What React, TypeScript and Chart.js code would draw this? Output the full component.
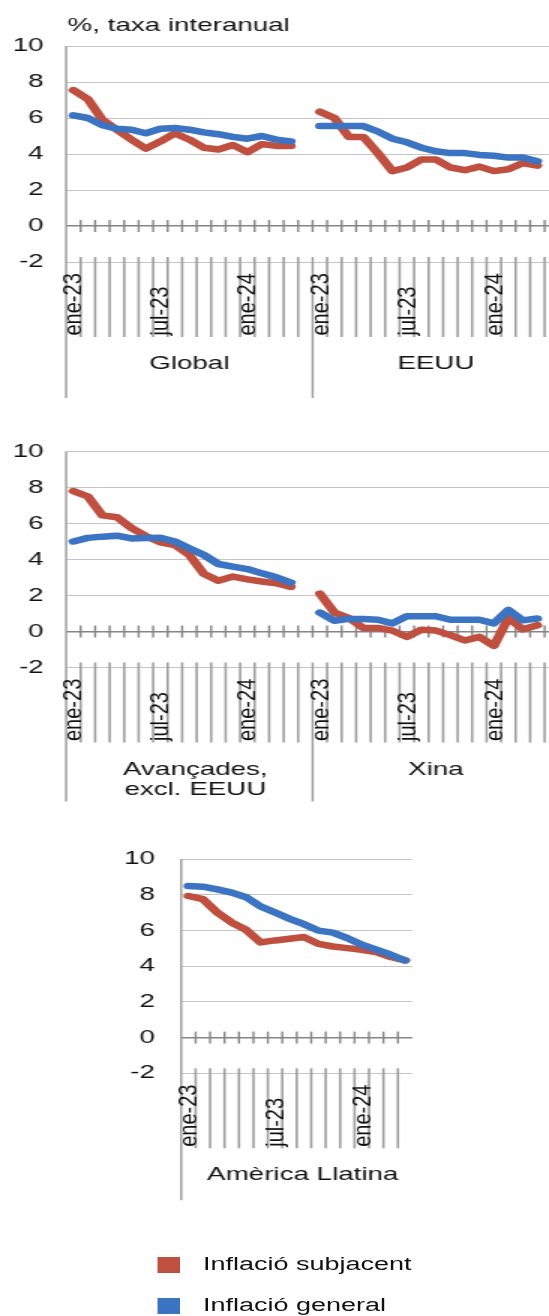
import React, { useEffect, useRef } from "react";
import { Chart, registerables } from "chart.js";

Chart.register(...registerables);

// ---------- data ----------
const tickLabels = ["ene-23", "", "", "", "", "", "jul-23", "", "", "", "", "", "ene-24", "", "", ""];

const globalCore = [7.55, 7.05, 5.9, 5.35, 4.8, 4.3, 4.7, 5.15, 4.8, 4.35, 4.25, 4.5, 4.1, 4.55, 4.45, 4.45];
const globalHeadline = [6.15, 6.0, 5.6, 5.4, 5.35, 5.15, 5.4, 5.45, 5.35, 5.2, 5.1, 4.95, 4.85, 5.0, 4.8, 4.7];
const usCore = [6.35, 6.0, 4.95, 4.95, 4.05, 3.05, 3.25, 3.7, 3.7, 3.25, 3.1, 3.3, 3.05, 3.15, 3.5, 3.35];
const usHeadline = [5.55, 5.55, 5.55, 5.55, 5.25, 4.85, 4.65, 4.35, 4.15, 4.05, 4.05, 3.95, 3.9, 3.8, 3.8, 3.6];

const advCore = [7.8, 7.5, 6.45, 6.35, 5.75, 5.3, 4.95, 4.8, 4.25, 3.2, 2.82, 3.05, 2.9, 2.78, 2.68, 2.48];
const advHeadline = [5.0, 5.2, 5.27, 5.32, 5.17, 5.2, 5.21, 5.0, 4.62, 4.25, 3.75, 3.6, 3.47, 3.23, 3.01, 2.72];
const chinaCore = [2.1, 1.05, 0.75, 0.2, 0.2, 0.05, -0.3, 0.1, 0.05, -0.2, -0.5, -0.3, -0.8, 0.75, 0.12, 0.35];
const chinaHeadline = [1.05, 0.6, 0.7, 0.7, 0.65, 0.45, 0.85, 0.85, 0.85, 0.65, 0.65, 0.65, 0.45, 1.2, 0.62, 0.72];

const latamCore = [7.93, 7.75, 7.0, 6.44, 6.03, 5.33, 5.44, 5.53, 5.63, 5.25, 5.1, 5.01, 4.92, 4.79, 4.51, 4.32];
const latamHeadline = [8.49, 8.45, 8.3, 8.12, 7.86, 7.34, 7.0, 6.65, 6.35, 5.99, 5.88, 5.57, 5.2, 4.92, 4.64, 4.32];

const seriesNames = ["Inflació subjacent", "Inflació general"];
const titleText = "%, taxa interanual";
const yTicks = { min: -2, max: 10, step: 2 };

// ---------- style ----------
const RED = "#BF5040";
const BLUE = "#3A74C2";
const FONT = '"Liberation Sans", Arial, Helvetica, sans-serif';
const STRETCH = 1.5;
const CW = 376;

type Group = { lines: string[]; from: number; to: number; dx?: number };
type Panel = {
  top: number;
  height: number;
  labels: string[];
  core: (number | null)[];
  general: (number | null)[];
  groups: Group[];
  pad: { top: number; bottom: number; left: number; right: number };
  tickPad: number;
  longDrop: number;
  title?: string;
};

const twoGroupLabels = [...tickLabels, "", ...tickLabels, ""];

const panels: Panel[] = [
  {
    top: 0,
    height: 410,
    labels: twoGroupLabels,
    core: [...globalCore, null, ...usCore, null],
    general: [...globalHeadline, null, ...usHeadline, null],
    groups: [
      { lines: ["Global"], from: 0, to: 16 },
      { lines: ["EEUU"], from: 17, to: 33 },
    ],
    pad: { top: 46, bottom: 148, left: 0, right: 1.7 },
    tickPad: 15,
    longDrop: 136,
    title: titleText,
  },
  {
    top: 410,
    height: 410,
    labels: twoGroupLabels,
    core: [...advCore, null, ...chinaCore, null],
    general: [...advHeadline, null, ...chinaHeadline, null],
    groups: [
      { lines: ["Avançades,", "excl. EEUU"], from: 0, to: 16, dx: 4 },
      { lines: ["Xina"], from: 17, to: 33 },
    ],
    pad: { top: 41.5, bottom: 152.5, left: 0, right: 1.7 },
    tickPad: 15,
    longDrop: 134,
  },
  {
    top: 820,
    height: 400,
    labels: tickLabels,
    core: latamCore,
    general: latamHeadline,
    groups: [{ lines: ["Amèrica Llatina"], from: 0, to: 15, dx: 4 }],
    pad: { top: 39, bottom: 146.7, left: 76.7, right: 101.1 },
    tickPad: 17.5,
    longDrop: 127,
  },
];

function makeAxisPlugin(p: Panel, idx: number) {
  return {
    id: "multiAxis" + idx,
    beforeDatasetsDraw(chart: any) {
      const { ctx, chartArea } = chart;
      const xs = chart.scales.x;
      const ys = chart.scales.y;
      const n = p.labels.length;
      const edge = (i: number) =>
        i <= 0 ? chartArea.left : i >= n ? chartArea.right : (xs.getPixelForValue(i - 1) + xs.getPixelForValue(i)) / 2;
      const y0 = ys.getPixelForValue(0);
      const bottom = chartArea.bottom;
      const starts = new Set(p.groups.map((g) => g.from));
      const line = (x1: number, y1: number, x2: number, y2: number) => {
        ctx.beginPath();
        ctx.moveTo(x1, y1);
        ctx.lineTo(x2, y2);
        ctx.stroke();
      };
      ctx.save();
      // cross tick marks on the zero line
      ctx.strokeStyle = "#858585";
      ctx.lineWidth = 1.4;
      for (let i = 1; i < n; i++) line(edge(i), y0 - 6, edge(i), y0 + 6);
      // category separators in label area
      ctx.strokeStyle = "#9e9e9e";
      ctx.lineWidth = 1.6;
      for (let i = 1; i < n; i++) if (!starts.has(i)) line(edge(i), bottom - 5, edge(i), bottom + 75);
      // axis line + group separators
      ctx.strokeStyle = "#999999";
      ctx.lineWidth = 1.4;
      p.groups.forEach((g) => {
        const gx = edge(g.from);
        line(gx, g.from === 0 ? chartArea.top : bottom - 5, gx, bottom + p.longDrop);
      });
      // rotated month labels
      ctx.fillStyle = "#111";
      ctx.font = "20px " + FONT;
      p.labels.forEach((lab, i) => {
        if (!lab) return;
        const cx = xs.getPixelForValue(i) + 1;
        ctx.save();
        ctx.translate(cx, bottom + 73.5);
        ctx.scale(0.82, 1);
        ctx.rotate(-Math.PI / 2);
        ctx.textAlign = "left";
        ctx.textBaseline = "middle";
        ctx.fillText(lab, 0, 0);
        ctx.restore();
      });
      // group labels
      ctx.font = "18.5px " + FONT;
      ctx.textAlign = "center";
      ctx.textBaseline = "alphabetic";
      p.groups.forEach((g) => {
        const cx = (edge(g.from) + edge(g.to + 1)) / 2 + (g.dx || 0);
        g.lines.forEach((t, j) => ctx.fillText(t, cx, bottom + 107 + j * 20.5));
      });
      // title
      if (p.title) {
        ctx.textAlign = "left";
        ctx.fillText(p.title, chartArea.left + 1, 30.5);
      }
      ctx.restore();
    },
  };
}

function makeConfig(p: Panel, idx: number): any {
  const common = {
    borderWidth: 6.5,
    pointRadius: 0,
    pointHoverRadius: 0,
    tension: 0,
    spanGaps: false,
    borderCapStyle: "round",
    borderJoinStyle: "round",
    fill: false,
  };
  return {
    type: "line",
    data: {
      labels: p.labels,
      datasets: [
        { ...common, label: seriesNames[0], data: p.core, borderColor: RED, backgroundColor: RED, order: 2 },
        { ...common, label: seriesNames[1], data: p.general, borderColor: BLUE, backgroundColor: BLUE, order: 1 },
      ],
    },
    options: {
      animation: false,
      responsive: true,
      maintainAspectRatio: false,
      events: [],
      layout: { padding: p.pad },
      plugins: { legend: { display: false }, tooltip: { enabled: false }, title: { display: false } },
      scales: {
        x: { type: "category", offset: true, display: false },
        y: {
          min: yTicks.min,
          max: yTicks.max,
          ticks: { stepSize: yTicks.step, color: "#111", font: { family: FONT, size: 18.5 }, padding: p.tickPad },
          grid: {
            drawTicks: false,
            color: (c: any) => (c.tick && c.tick.value === 0 ? "#858585" : "#c4c4c4"),
            lineWidth: (c: any) => (c.tick && c.tick.value === 0 ? 1.6 : 1),
          },
          border: { display: false },
          afterFit: (s: any) => {
            s.width = 44.1;
          },
        },
      },
    },
    plugins: [makeAxisPlugin(p, idx)],
  };
}

export default function App() {
  const canvases = useRef<(HTMLCanvasElement | null)[]>([]);
  useEffect(() => {
    const charts = panels.map((p, i) => new Chart(canvases.current[i] as HTMLCanvasElement, makeConfig(p, i)));
    return () => charts.forEach((c) => c.destroy());
  }, []);

  const legendText: React.CSSProperties = {
    position: "absolute",
    left: 135.3,
    font: "18px " + FONT,
    lineHeight: "20px",
    whiteSpace: "nowrap",
    color: "#111",
  };

  return (
    <div
      style={{ position: "fixed", left: 0, top: 0, width: 549, height: 1316, overflow: "hidden", background: "#fff" }}
    >
      <div
        style={{
          position: "absolute",
          left: 0,
          top: 0,
          width: CW,
          height: 1316,
          transform: `scaleX(${STRETCH})`,
          transformOrigin: "0 0",
        }}
      >
        {panels.map((p, i) => (
          <div key={i} style={{ position: "absolute", left: 0, top: p.top, width: CW, height: p.height }}>
            <canvas ref={(el) => (canvases.current[i] = el)} />
          </div>
        ))}
        <div style={{ position: "absolute", left: 105.3, top: 1257, width: 14.7, height: 16, background: RED }} />
        <div style={{ ...legendText, top: 1253.7 }}>{seriesNames[0]}</div>
        <div style={{ position: "absolute", left: 105.3, top: 1298, width: 14.7, height: 16, background: BLUE }} />
        <div style={{ ...legendText, top: 1295 }}>{seriesNames[1]}</div>
      </div>
    </div>
  );
}
